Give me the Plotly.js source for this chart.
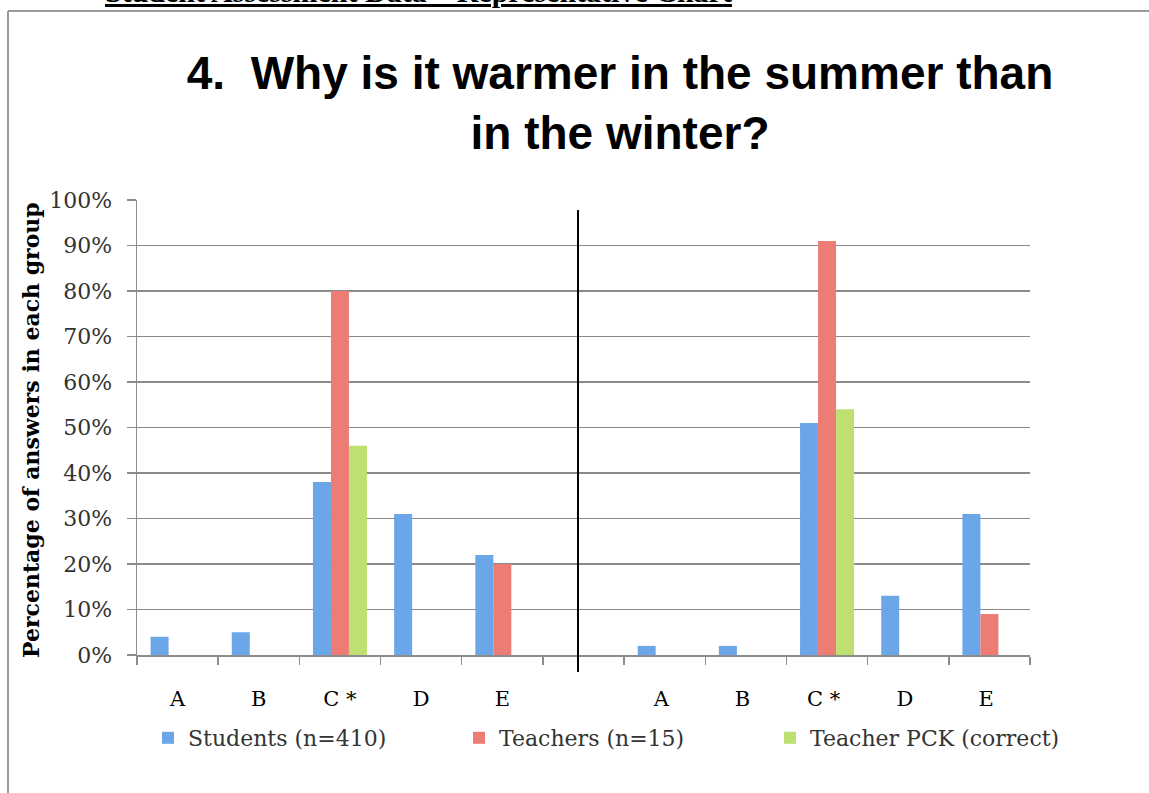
<!DOCTYPE html>
<html>
<head>
<meta charset="utf-8">
<script src="https://cdn.plot.ly/plotly-3.0.1.min.js"></script>
<style>html,body{margin:0;padding:0;background:#fff;}</style>
</head>
<body>
<div id="chart" style="width:1149px;height:793px;"></div>
<script>
const categories = ["A", "B", "C *", "D", "E", " ", "A ", "B ", "C * ", "D ", "E "];
const students = [0.04, 0.05, 0.38, 0.31, 0.22, null, 0.02, 0.02, 0.51, 0.13, 0.31];
const teachers = [0, 0, 0.80, 0, 0.20, null, 0, 0, 0.91, 0, 0.09];
const teacherPCK = [0, 0, 0.46, 0, 0, null, 0, 0, 0.54, 0, 0];
const seriesNames = ["Students (n=410)", "Teachers (n=15)", "Teacher PCK (correct)"];
const seriesColors = ["#6aa6e8", "#ec7c74", "#bde070"];
const yTickVals = [0, 0.1, 0.2, 0.3, 0.4, 0.5, 0.6, 0.7, 0.8, 0.9, 1.0];

const serif = "DejaVu Serif, Liberation Serif, serif";

const traces = [students, teachers, teacherPCK].map((vals, i) => ({
  type: "bar",
  name: seriesNames[i],
  x: categories,
  y: vals,
  marker: {color: seriesColors[i], line: {width: 0}},
  hoverinfo: "x+y+name"
}));

const L = 137, R = 1030, T = 200, B = 655;
const px = v => (v - L) / (R - L);
const py = v => (B - v) / (B - T);

const layout = {
  width: 1149, height: 793,
  margin: {l: L, r: 1149 - R, t: T, b: 793 - B, autoexpand: false},
  paper_bgcolor: "#ffffff", plot_bgcolor: "#ffffff",
  barmode: "group",
  bargap: 0.335, bargroupgap: 0,
  showlegend: true,
  title: {
    text: "4.  Why is it warmer in the summer than<br>in the winter?",
    font: {family: "Liberation Sans, Arial, sans-serif", size: 46, color: "#000", weight: 700},
    x: 620 / 1149, xanchor: "center", xref: "container",
    y: 1 - 89 / 793, yanchor: "top", yref: "container"
  },
  xaxis: {
    type: "category",
    categoryorder: "array", categoryarray: categories,
    tickson: "boundaries",
    ticks: "outside", ticklen: 8, tickwidth: 1.5, tickcolor: "#8c8c8c",
    ticklabelstandoff: 24,
    showline: true, linecolor: "#8c8c8c", linewidth: 1.5,
    showgrid: false, zeroline: false,
    tickfont: {family: serif, size: 21, color: "#000"},
    fixedrange: true
  },
  yaxis: {
    range: [0, 1],
    tickvals: yTickVals, tickformat: ".0%",
    ticks: "outside", ticklen: 9, tickwidth: 1.5, tickcolor: "#8c8c8c",
    ticklabelstandoff: 10,
    showline: true, linecolor: "#8c8c8c", linewidth: 1.5,
    showgrid: true, gridcolor: "#8a8a8a", gridwidth: 1.6,
    zeroline: false,
    tickfont: {family: serif, size: 22, color: "#333"},
    fixedrange: true
  },
  legend: {
    orientation: "h",
    x: px(136), xanchor: "left",
    y: py(738), yanchor: "middle",
    indentation: 12,
    font: {family: serif, size: 22, color: "#333"},
    entrywidth: 254, entrywidthmode: "pixels",
    itemsizing: "constant",
    bgcolor: "rgba(0,0,0,0)"
  },
  annotations: [
    {
      text: "Percentage of answers in each group",
      xref: "paper", yref: "paper",
      x: px(31), y: py(430), xanchor: "center", yanchor: "middle",
      textangle: -90, showarrow: false,
      font: {family: serif, size: 22, color: "#000", weight: 700}
    },
    {
      text: "<u>Student Assessment Data – Representative Chart</u>",
      xref: "paper", yref: "paper",
      x: px(103), y: py(10), xanchor: "left", yanchor: "bottom",
      showarrow: false,
      font: {family: "Liberation Serif, Times New Roman, serif", size: 30, color: "#000", weight: 700}
    }
  ],
  shapes: [
    {type: "line", xref: "paper", yref: "paper", x0: px(578), x1: px(578), y0: py(210), y1: py(672),
     line: {color: "#000", width: 2}},
    {type: "line", xref: "paper", yref: "paper", x0: px(8), x1: px(1160), y0: py(11), y1: py(11),
     line: {color: "#9a9a9a", width: 2}},
    {type: "line", xref: "paper", yref: "paper", x0: px(8), x1: px(8), y0: py(11), y1: py(800),
     line: {color: "#9a9a9a", width: 2}}
  ]
};

Plotly.newPlot("chart", traces, layout, {displayModeBar: false, staticPlot: true});
</script>
</body>
</html>
